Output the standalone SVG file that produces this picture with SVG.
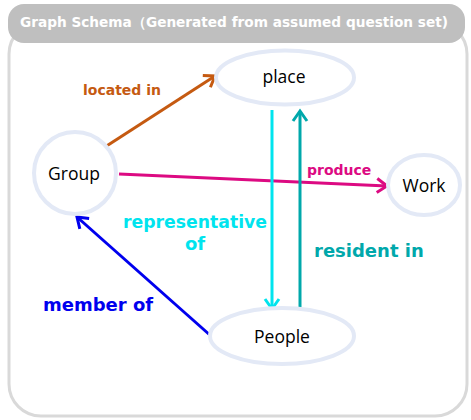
<svg xmlns="http://www.w3.org/2000/svg" width="471" height="420" viewBox="0 0 471 420">
<style>
.node{fill:#fff;stroke:#e3e9f6;stroke-width:4}
.nl{font-family:"Open Sans","Noto Sans",sans-serif;font-size:17.5px;fill:#000;text-anchor:middle}
.el{font-family:"DejaVu Sans",Verdana,sans-serif;font-weight:bold}
.c{fill:none;stroke-width:3}
</style>
<defs>
<marker id="mo" markerUnits="userSpaceOnUse" markerWidth="20" markerHeight="20" refX="0" refY="0" viewBox="-12 -10 14 20" orient="auto"><path d="M-10,-7 L0,0 L-10,7" fill="none" stroke="#c55a11" stroke-width="3"/></marker>
<marker id="mm" markerUnits="userSpaceOnUse" markerWidth="20" markerHeight="20" refX="0" refY="0" viewBox="-12 -10 14 20" orient="auto"><path d="M-10,-7 L0,0 L-10,7" fill="none" stroke="#dc0a82" stroke-width="3"/></marker>
<marker id="mc" markerUnits="userSpaceOnUse" markerWidth="20" markerHeight="20" refX="0" refY="0" viewBox="-12 -10 14 20" orient="auto"><path d="M-10,-7 L0,0 L-10,7" fill="none" stroke="#00e4ee" stroke-width="3"/></marker>
<marker id="mt" markerUnits="userSpaceOnUse" markerWidth="20" markerHeight="20" refX="0" refY="0" viewBox="-12 -10 14 20" orient="auto"><path d="M-10,-7 L0,0 L-10,7" fill="none" stroke="#00a8ab" stroke-width="3"/></marker>
<marker id="mb" markerUnits="userSpaceOnUse" markerWidth="20" markerHeight="20" refX="0" refY="0" viewBox="-12 -10 14 20" orient="auto"><path d="M-10,-7 L0,0 L-10,7" fill="none" stroke="#0000ee" stroke-width="3"/></marker>
</defs>
<g id="frame">
<rect x="9" y="22" width="458" height="394" rx="32" ry="32" fill="#fff" stroke="#d9d9d9" stroke-width="3"/>
<rect x="8" y="4" width="457" height="39" rx="16" ry="16" fill="#bfbfbf"/>
<text x="20" y="27" font-family="DejaVu Sans,Verdana,sans-serif" font-weight="bold" font-size="13.5" fill="#fff" textLength="428" lengthAdjust="spacingAndGlyphs">Graph Schema（Generated from assumed question set)</text>
</g>
<g id="connectors">
<line class="c" x1="105" y1="147" x2="215" y2="76" stroke="#c55a11" marker-end="url(#mo)"/>
<line class="c" x1="119" y1="174" x2="387" y2="186" stroke="#dc0a82" marker-end="url(#mm)"/>
<line class="c" x1="272" y1="110" x2="272" y2="309" stroke="#00e4ee" marker-end="url(#mc)"/>
<line class="c" x1="300" y1="307" x2="300" y2="111" stroke="#00a8ab" marker-end="url(#mt)"/>
<line class="c" x1="211" y1="336" x2="77" y2="217" stroke="#0000ee" marker-end="url(#mb)"/>
<text class="el" x="83" y="95" font-size="14" fill="#c55a11">located in</text>
<text class="el" x="307" y="175" font-size="14" fill="#dc0a82">produce</text>
<text class="el" x="195" y="228" font-size="18" fill="#00e4ee" text-anchor="middle" textLength="144" lengthAdjust="spacingAndGlyphs">representative</text>
<text class="el" x="195" y="250" font-size="18" fill="#00e4ee" text-anchor="middle">of</text>
<text class="el" x="314" y="257" font-size="18" fill="#00a8ab">resident in</text>
<text class="el" x="43" y="311" font-size="18" fill="#0000ee">member of</text>
</g>
<g id="place">
<ellipse class="node" cx="285" cy="77.5" rx="69" ry="27"/>
<text class="nl" x="284" y="83">place</text>
</g>
<g id="group">
<circle class="node" cx="75" cy="173" r="41"/>
<text class="nl" x="74" y="180">Group</text>
</g>
<g id="work">
<ellipse class="node" cx="424" cy="185" rx="36" ry="30"/>
<text class="nl" x="424" y="192">Work</text>
</g>
<g id="people">
<ellipse class="node" cx="282" cy="336" rx="72" ry="28"/>
<text class="nl" x="282" y="343">People</text>
</g>
</svg>
